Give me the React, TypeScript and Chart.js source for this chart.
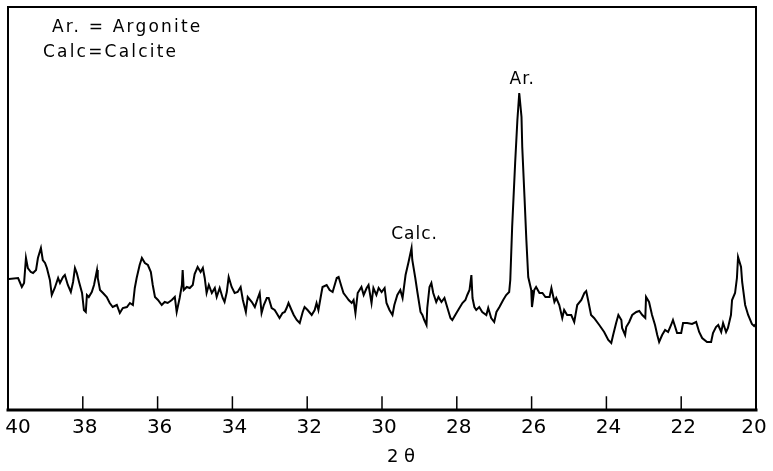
import React, { useEffect, useRef } from "react";
import { Chart, registerables } from "chart.js";

Chart.register(...registerables);

const twoTheta = [
  39.99, 39.97, 39.73, 39.63, 39.57, 39.52, 39.47, 39.39, 39.33, 39.25, 39.2, 39.12, 39.07, 39.01, 38.96,
  38.88, 38.83, 38.75, 38.66, 38.61, 38.53, 38.48, 38.4, 38.32, 38.26, 38.21, 38.16, 38.1, 38.02, 37.97,
  37.92, 37.89, 37.84, 37.76, 37.7, 37.62, 37.6, 37.54, 37.46, 37.36, 37.28, 37.2, 37.09, 37.01, 36.93,
  36.82, 36.74, 36.66, 36.61, 36.56, 36.48, 36.42, 36.34, 36.26, 36.18, 36.13, 36.07, 35.99, 35.89, 35.81,
  35.73, 35.62, 35.54, 35.49, 35.41, 35.35, 35.33, 35.3, 35.22, 35.14, 35.06, 35.01, 34.93, 34.85, 34.79,
  34.74, 34.69, 34.63, 34.55, 34.47, 34.42, 34.34, 34.26, 34.21, 34.15, 34.1, 34.02, 33.94, 33.86, 33.78,
  33.72, 33.64, 33.59, 33.48, 33.4, 33.32, 33.27, 33.22, 33.16, 33.08, 33.03, 32.95, 32.87, 32.82, 32.74,
  32.66, 32.6, 32.55, 32.5, 32.42, 32.36, 32.28, 32.2, 32.12, 32.07, 31.99, 31.88, 31.8, 31.75, 31.7,
  31.62, 31.59, 31.48, 31.4, 31.32, 31.21, 31.16, 31.08, 31.03, 30.95, 30.89, 30.81, 30.76, 30.71, 30.65,
  30.55, 30.49, 30.41, 30.36, 30.28, 30.23, 30.15, 30.09, 30.01, 29.93, 29.88, 29.8, 29.72, 29.67, 29.59,
  29.51, 29.45, 29.37, 29.29, 29.21, 29.19, 29.11, 29.05, 28.97, 28.92, 28.87, 28.81, 28.79, 28.73, 28.68,
  28.63, 28.55, 28.49, 28.41, 28.33, 28.25, 28.17, 28.12, 28.01, 27.93, 27.85, 27.77, 27.72, 27.66, 27.61,
  27.58, 27.53, 27.48, 27.4, 27.32, 27.21, 27.16, 27.08, 27.0, 26.94, 26.86, 26.76, 26.68, 26.6, 26.57,
  26.52, 26.44, 26.38, 26.33, 26.27, 26.25, 26.19, 26.14, 26.09, 26.01, 25.99, 25.93, 25.88, 25.79, 25.71,
  25.63, 25.52, 25.47, 25.39, 25.34, 25.26, 25.18, 25.13, 25.05, 24.94, 24.86, 24.78, 24.67, 24.59, 24.54,
  24.49, 24.41, 24.33, 24.19, 24.06, 23.95, 23.87, 23.82, 23.74, 23.68, 23.6, 23.58, 23.5, 23.47, 23.39,
  23.31, 23.2, 23.12, 23.04, 22.96, 22.94, 22.86, 22.78, 22.7, 22.64, 22.59, 22.51, 22.43, 22.35, 22.27,
  22.22, 22.16, 22.11, 22.0, 21.95, 21.84, 21.71, 21.6, 21.52, 21.44, 21.31, 21.2, 21.15, 21.07, 21.01,
  20.93, 20.88, 20.8, 20.75, 20.67, 20.64, 20.56, 20.51, 20.48, 20.4, 20.37, 20.29, 20.21, 20.11, 20.05,
  20.0,
];

// Intensity (arbitrary units) at each 2θ above
const intensity = [
  129, 129, 130, 121, 125, 150, 140, 136, 135, 138, 150, 160, 148, 145, 140,
  128, 113, 120, 130, 125, 131, 133, 123, 116, 126, 140, 135, 126, 115, 98,
  96, 113, 111, 116, 123, 138, 130, 118, 115, 111, 105, 101, 103, 95, 100,
  101, 105, 103, 120, 130, 143, 150, 145, 143, 136, 123, 111, 108, 103, 106,
  105, 108, 111, 96, 110, 123, 138, 118, 121, 120, 123, 134, 141, 136, 140,
  130, 115, 123, 115, 120, 111, 120, 110, 106, 116, 131, 121, 115, 116, 121,
  108, 96, 111, 106, 101, 110, 115, 95, 103, 110, 110, 100, 98, 95, 90,
  95, 96, 100, 105, 98, 93, 88, 85, 96, 101, 98, 93, 98, 105, 98,
  115, 121, 123, 118, 116, 130, 131, 121, 115, 111, 108, 105, 108, 95, 115,
  121, 113, 120, 123, 105, 120, 113, 120, 116, 120, 105, 98, 93, 103, 113,
  118, 110, 133, 146, 160, 148, 130, 115, 96, 93, 88, 83, 100, 121, 125,
  115, 106, 111, 106, 110, 100, 90, 88, 95, 100, 105, 108, 113, 118, 133,
  110, 101, 98, 101, 96, 93, 100, 90, 86, 96, 101, 108, 113, 116, 128,
  181, 245, 288, 315, 291, 261, 211, 168, 131, 118, 101, 118, 121, 115, 115,
  111, 111, 120, 106, 110, 103, 90, 98, 93, 93, 86, 103, 108, 115, 117,
  108, 93, 90, 83, 76, 68, 65, 73, 85, 93, 88, 80, 73, 81, 86,
  93, 96, 97, 93, 90, 111, 106, 93, 83, 73, 66, 73, 78, 76, 83,
  88, 81, 75, 75, 85, 85, 84, 86, 76, 70, 66, 66, 75, 81, 83,
  76, 85, 76, 80, 93, 108, 115, 130, 151, 141, 126, 103, 93, 84, 82,
  84,
];

const xTickStep = 2;
const xMin = 20;
const xMax = 40;
const axisTitle = "2 θ";
const legendLines = ["Ar. = Argonite", "Calc=Calcite"];
const peakNames = ["Ar.", "Calc."];
const peakTheta = [26.33, 29.21];
const peakIntensity = [315, 160];

export default function App() {
  const ref = useRef<HTMLCanvasElement | null>(null);

  useEffect(() => {
    document.body.style.margin = "0";
    const canvas = ref.current;
    if (!canvas) return;

    const framePlugin = {
      id: "xrdFrame",
      afterDraw(chart: any) {
        const { ctx, chartArea } = chart;
        const xs = chart.scales.x;
        const ys = chart.scales.y;
        const { left, right, top, bottom } = chartArea;
        ctx.save();
        ctx.strokeStyle = "#000";
        ctx.lineCap = "square";
        // frame
        ctx.lineWidth = 2;
        ctx.beginPath();
        ctx.moveTo(left, top);
        ctx.lineTo(right, top);
        ctx.moveTo(left, top);
        ctx.lineTo(left, bottom);
        ctx.moveTo(right, top);
        ctx.lineTo(right, bottom);
        ctx.stroke();
        ctx.lineWidth = 3;
        ctx.beginPath();
        ctx.moveTo(left, bottom);
        ctx.lineTo(right, bottom);
        ctx.stroke();
        // inward ticks and labels
        ctx.lineWidth = 1.5;
        ctx.fillStyle = "#000";
        ctx.font = "20px 'DejaVu Sans'";
        ctx.textAlign = "center";
        ctx.textBaseline = "middle";
        for (const t of xs.ticks) {
          const px = xs.getPixelForValue(t.value);
          if (t.value !== xMin && t.value !== xMax) {
            ctx.beginPath();
            ctx.moveTo(px, bottom);
            ctx.lineTo(px, bottom - 13);
            ctx.stroke();
          }
          const lx = Math.min(Math.max(px + 2, left + 10), right - 2);
          ctx.fillText(String(t.value), lx, bottom + 18);
        }
        // axis title
        ctx.font = "18px 'DejaVu Sans'";
        ctx.fillText(axisTitle, (left + right) / 2 + 19, bottom + 47);
        // legend
        ctx.font = "17px 'DejaVu Sans'";
        ctx.textAlign = "left";
        (ctx as any).letterSpacing = "2.2px";
        ctx.fillText(legendLines[0], left + 44, top + 21);
        ctx.fillText(legendLines[1], left + 35, top + 46);
        // peak labels
        (ctx as any).letterSpacing = "1px";
        ctx.font = "17px 'DejaVu Sans'";
        ctx.textAlign = "center";
        ctx.textBaseline = "bottom";
        for (let i = 0; i < peakNames.length; i++) {
          const px = xs.getPixelForValue(peakTheta[i]);
          const py = ys.getPixelForValue(peakIntensity[i]);
          ctx.fillText(peakNames[i], px + 3, py - 5);
        }
        ctx.restore();
      },
    };

    const chart = new Chart(canvas, {
      type: "line",
      data: {
        datasets: [
          {
            data: twoTheta.map((t, i) => ({ x: t, y: intensity[i] })),
            borderColor: "#000",
            borderWidth: 2,
            pointRadius: 0,
            tension: 0,
            fill: false,
          },
        ],
      },
      options: {
        animation: false,
        responsive: false,
        maintainAspectRatio: false,
        layout: { padding: { left: 8, right: 17, top: 7, bottom: 61 } },
        plugins: { legend: { display: false }, tooltip: { enabled: false } },
        scales: {
          x: {
            type: "linear",
            reverse: true,
            min: xMin,
            max: xMax,
            display: false,
            ticks: { stepSize: xTickStep },
          },
          y: { type: "linear", min: -2, max: 401, display: false },
        },
      },
      plugins: [framePlugin],
    });
    return () => chart.destroy();
  }, []);

  return (
    <div style={{ width: 773, height: 471, background: "#fff" }}>
      <canvas ref={ref} width={773} height={471} />
    </div>
  );
}
